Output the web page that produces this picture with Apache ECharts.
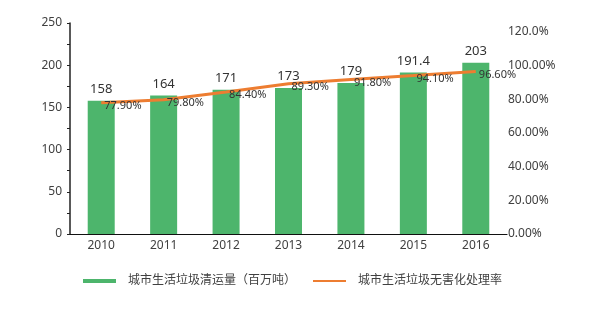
<!DOCTYPE html>
<html>
<head>
<meta charset="utf-8">
<script src="https://cdn.jsdelivr.net/npm/echarts@6/dist/echarts.min.js"></script>
<style>
  html, body { margin: 0; padding: 0; background: #fff; }
  #chart { width: 600px; height: 331px; }
</style>
</head>
<body>
<div id="chart"></div>
<script>
// Years on the category axis
const years = ['2010', '2011', '2012', '2013', '2014', '2015', '2016'];
// Urban household waste collected (million tonnes)
const wasteVolume = [158, 164, 171, 173, 179, 191.4, 203];
// Harmless treatment rate (%)
const treatmentRate = [77.9, 79.8, 84.4, 89.3, 91.8, 94.1, 96.6];

const barName = '城市生活垃圾清运量（百万吨）';
const lineName = '城市生活垃圾无害化处理率';
const green = '#4db56c';
const orange = '#ed7d31';
const font = '"Noto Sans", "Noto Sans CJK SC", sans-serif';
const textColor = '#404040';

const chart = echarts.init(document.getElementById('chart'), null, { renderer: 'canvas' });

chart.setOption({
  animation: false,
  textStyle: { fontFamily: font },
  grid: [
    { left: 70, right: 93, top: 23, bottom: 97 },
    { left: 70, right: 93, top: 32, bottom: 97 }
  ],
  legend: [
    {
      data: [{ name: barName, icon: 'rect' }],
      left: 78, top: 270,
      itemWidth: 33, itemHeight: 4,
      textStyle: { fontSize: 12, color: textColor, fontFamily: font, padding: [0, 0, 0, 7] }
    },
    {
      data: [{ name: lineName, icon: 'rect', itemStyle: { color: orange } }],
      left: 308, top: 270,
      itemWidth: 33, itemHeight: 2,
      textStyle: { fontSize: 12, color: textColor, fontFamily: font, padding: [0, 0, 0, 7] }
    }
  ],
  xAxis: [
    {
      type: 'category', gridIndex: 0, data: years,
      axisLine: { lineStyle: { color: '#111', width: 1.2 } },
      axisTick: { show: false },
      axisLabel: { color: textColor, fontSize: 12, margin: 6 }
    },
    {
      type: 'category', gridIndex: 1, data: years, show: false
    }
  ],
  yAxis: [
    {
      type: 'value', gridIndex: 0, min: 0, max: 250, interval: 50,
      axisLine: { show: true, lineStyle: { color: '#222', width: 1.5 } },
      axisTick: { show: true, length: 3, lineStyle: { color: '#222' } },
      minorTick: { show: true, splitNumber: 2, length: 3, lineStyle: { color: '#222' } },
      splitLine: { show: false },
      axisLabel: { color: textColor, fontSize: 12, margin: 8 }
    },
    {
      type: 'value', gridIndex: 1, position: 'right', min: 0, max: 120, interval: 20,
      axisLine: { show: false },
      axisTick: { show: false },
      splitLine: { show: false },
      axisLabel: {
        color: textColor, fontSize: 12, margin: 1,
        formatter: v => (v === 120 ? v.toFixed(1) : v.toFixed(2)) + '%'
      }
    }
  ],
  series: [
    {
      name: barName, type: 'bar', xAxisIndex: 0, yAxisIndex: 0,
      data: wasteVolume, barWidth: 27,
      itemStyle: { color: green },
      label: { show: true, position: 'top', distance: 5, color: '#333', fontSize: 13, fontFamily: font }
    },
    {
      name: lineName, type: 'line', xAxisIndex: 1, yAxisIndex: 1,
      data: treatmentRate, symbol: 'circle', symbolSize: 0.1, showSymbol: true,
      lineStyle: { color: orange, width: 3 },
      itemStyle: { color: orange },
      z: 5,
      label: {
        show: true, position: 'right', distance: 3, offset: [0, 3],
        color: '#333', fontSize: 11, fontFamily: font,
        formatter: p => p.value.toFixed(2) + '%'
      }
    }
  ]
});
</script>
</body>
</html>
